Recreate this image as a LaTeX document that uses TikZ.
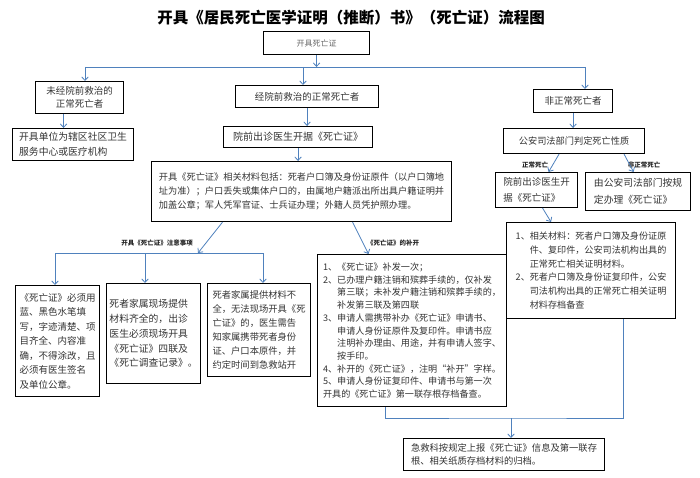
\documentclass[tikz,border=0pt]{standalone}
\usepackage{fontspec}
\setmainfont{Noto Sans CJK SC}
\usetikzlibrary{arrows.meta}
\definecolor{flowblue}{HTML}{4F81BD}
\tikzset{
  box/.style={draw, line width=1.1pt, anchor=north west, align=left, inner sep=0pt, text=black!80},
  link/.style={draw=flowblue, line width=0.8pt},
  flow/.style={link, -{Straight Barb[length=3.5pt,width=6.5pt]}},
  tag/.style={font=\fontsize{6.5}{7}\selectfont\bfseries, text=black!85}
}
\begin{document}
\begin{tikzpicture}[x=1pt,y=-1pt]
  \useasboundingbox (0,0) rectangle (700,478);
  \node [font=\fontsize{15.5}{18}\selectfont\bfseries] (title) at (351,18) {开具《居民死亡医学证明（推断）书》（死亡证）流程图};

  \node [box, minimum width=106, minimum height=23, font=\fontsize{8}{10}\selectfont, text=black!60] (start) at (263,31) {开具死亡证};
  \node [box, minimum width=88, minimum height=32, font=\fontsize{9.5}{13}\selectfont, align=center] (unrescued) at (35,81) {未经院前救治的\\正常死亡者};
  \node [box, minimum width=143, minimum height=22, font=\fontsize{9.5}{12}\selectfont] (rescued) at (235,85) {经院前救治的正常死亡者};
  \node [box, minimum width=79, minimum height=23, font=\fontsize{9.5}{12}\selectfont] (abnormal) at (533,89) {非正常死亡者};
  \node [box, minimum width=121, minimum height=32, font=\fontsize{9.8}{15}\selectfont] (unit) at (12,128) {开具单位为辖区社区卫生\\服务中心或医疗机构};
  \node [box, minimum width=149, minimum height=21, font=\fontsize{10}{12}\selectfont] (doctor) at (223,126) {院前出诊医生开据《死亡证》};
  \node [box, minimum width=300, minimum height=60, font=\fontsize{9.2}{14}\selectfont] (materials) at (151,161) {开具《死亡证》相关材料包括：死者户口簿及身份证原件（以户口簿地\\址为准）；户口丢失或集体户口的，由属地户籍派出所出具户籍证明并\\加盖公章；军人凭军官证、士兵证办理；外籍人员凭护照办理。};
  \node [box, minimum width=141, minimum height=25, font=\fontsize{9.2}{12}\selectfont] (police) at (503,128) {公安司法部门判定死亡性质};
  \node [box, minimum width=82, minimum height=35, font=\fontsize{9.5}{16}\selectfont] (pdoctor) at (495,172) {院前出诊医生开\\据《死亡证》};
  \node [box, minimum width=105, minimum height=38, font=\fontsize{9.8}{17}\selectfont] (phandle) at (585,172) {由公安司法部门按规\\定办理《死亡证》};
  \node [box, minimum width=169, minimum height=96, font=\fontsize{9.1}{13.7}\selectfont] (normlist) at (506,222) {1、相关材料：死者户口簿及身份证原\\\phantom{1、}件、复印件，公安司法机构出具的\\\phantom{1、}正常死亡相关证明材料。\\2、死者户口簿及身份证复印件，公安\\\phantom{2、}司法机构出具的正常死亡相关证明\\\phantom{2、}材料存档备查};
  \node [box, minimum width=84, minimum height=111, font=\fontsize{9.5}{14.5}\selectfont] (mustfill) at (15,285) {《死亡证》必须用\\蓝、黑色水笔填\\写，字迹清楚、项\\目齐全、内容准\\确，不得涂改，且\\必须有医生签名\\及单位公章。};
  \node [box, minimum width=94, minimum height=100, font=\fontsize{9.8}{14.75}\selectfont] (onsite) at (106,283) {死者家属现场提供\\材料齐全的，出诊\\医生必须现场开具\\《死亡证》四联及\\《死亡调查记录》。};
  \node [box, minimum width=103, minimum height=93, font=\fontsize{9.3}{14}\selectfont] (incomplete) at (207,283) {死者家属提供材料不\\全，无法现场开具《死\\亡证》的，医生需告\\知家属携带死者身份\\证、户口本原件，并\\约定时间到急救站开};
  \node [box, minimum width=189, minimum height=152, font=\fontsize{9.1}{12.7}\selectfont] (reissue) at (317,254) {1、《死亡证》补发一次；\\2、已办理户籍注销和殡葬手续的，仅补发\\\phantom{2、}第三联；未补发户籍注销和殡葬手续的，\\\phantom{2、}补发第三联及第四联\\3、申请人需携带补办《死亡证》申请书、\\\phantom{3、}申请人身份证原件及复印件。申请书应\\\phantom{3、}注明补办理由、用途，并有申请人签字、\\\phantom{3、}按手印。\\4、补开的《死亡证》，注明“补开”字样。\\5、申请人身份证复印件、申请书与第一次\\开具的《死亡证》第一联存根存档备查。};
  \node [box, minimum width=201, minimum height=32, font=\fontsize{9.3}{13}\selectfont] (archive) at (403,438) {急救科按规定上报《死亡证》信息及第一联存\\根、相关纸质存档材料的归档。};

  \node [tag] (tagnormal) at (535,165) {正常死亡};
  \node [tag] (tagabnormal) at (644,165) {非正常死亡};
  \node [tag] (tagnotes) at (157,243) {开具《死亡证》注意事项};
  \node [tag] (tagreissue) at (393,243) {《死亡证》的补开};

  \coordinate (bl) at (85,67);
  \coordinate (bm) at (303,67);
  \coordinate (br) at (585,67);
  \draw [link] (bl) -- (br);
  \draw [flow] (start.south) -- (start.south |- bm);
  \draw [flow] (bl) -- (bl |- unrescued.north);
  \draw [flow] (bm) -- (bm |- rescued.north);
  \draw [flow] (br) -- (br |- abnormal.north);
  \draw [flow] ([xshift=-16pt]unrescued.south) -- ([xshift=-16pt]unrescued.south |- unit.north);
  \draw [flow] (rescued.south) -- (rescued.south |- doctor.north);
  \draw [flow] (doctor.south) -- (doctor.south |- materials.north);
  \draw [flow] (abnormal.south) -- (abnormal.south |- police.north);
  \draw [flow] ([xshift=-15pt]police.south) -- ([xshift=12pt]pdoctor.north);
  \draw [flow] ([xshift=50pt]police.south) -- ([xshift=-4.5pt]phandle.north);
  \draw [flow] ([xshift=6pt]pdoctor.south) -- ([xshift=-40pt]normlist.north);

  \coordinate (nj) at (198,253);
  \coordinate (nl) at (55,253);
  \coordinate (nm) at (145,253);
  \coordinate (nr) at (263,253);
  \draw [flow] ([xshift=-79pt]materials.south) -- (nj);
  \draw [link] (nl) -- (nr);
  \draw [flow] (nl) -- (nl |- mustfill.north);
  \draw [flow] (nm) -- (nm |- onsite.north);
  \draw [flow] (nr) -- (nr |- incomplete.north);
  \draw [flow] ([xshift=51pt]materials.south) -- ([xshift=-43.5pt]reissue.north);

  \coordinate (mj) at (511,418);
  \draw [link] ([xshift=-26.5pt]reissue.south) |- (mj) -| ([xshift=32.5pt]normlist.south);
  \draw [flow] (mj) -- (mj |- archive.north);
\end{tikzpicture}
\end{document}
